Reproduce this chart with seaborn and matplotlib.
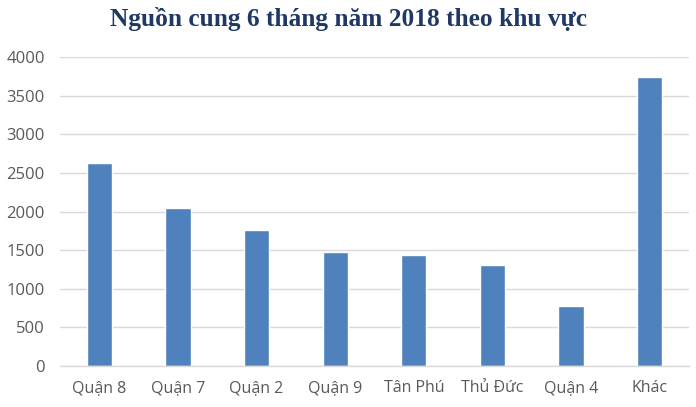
import matplotlib
matplotlib.use('Agg')
import matplotlib.pyplot as plt
import seaborn as sns
import pandas as pd

# data
districts = ["Quận 8", "Quận 7", "Quận 2", "Quận 9", "Tân Phú", "Thủ Đức", "Quận 4", "Khác"]
supply    = [2630, 2050, 1760, 1480, 1440, 1310, 780, 3745]
y_ticks   = [0, 500, 1000, 1500, 2000, 2500, 3000, 3500, 4000]

df = pd.DataFrame({"district": districts, "supply": supply})

sns.set_style("white")
plt.rcParams['font.family'] = ['Open Sans', 'DejaVu Sans']

fig = plt.figure(figsize=(6.96, 4.07), dpi=100)
ax = fig.add_axes([60/696, 1 - 366/407, 629/696, (366 - 57.3)/407])

sns.barplot(data=df, x="district", y="supply", color="#4f81bd", saturation=1,
            width=0.32, ax=ax)

ax.set_ylim(0, 4000)
ax.set_yticks(y_ticks)
ax.set_xlim(-0.5, len(districts) - 0.5)
ax.yaxis.grid(True, color="#d9d9d9", lw=1)
ax.set_axisbelow(True)
for s in ["left", "right", "top"]:
    ax.spines[s].set_visible(False)
ax.spines["bottom"].set_color("#d9d9d9")
ax.spines["bottom"].set_linewidth(1)
ax.tick_params(axis='y', length=0, pad=11, labelsize=12, labelcolor="#595959")
ax.tick_params(axis='x', length=0, pad=10, labelsize=11.5, labelcolor="#595959")
ax.set_xlabel("")
ax.set_ylabel("")

fig.suptitle("Nguồn cung 6 tháng năm 2018 theo khu vực", x=0.5, y=0.983,
             fontsize=18.3, fontweight="bold", color="#1f3864",
             family=["Liberation Serif", "DejaVu Serif"])

plt.savefig("out.png", dpi=100)
plt.close()
